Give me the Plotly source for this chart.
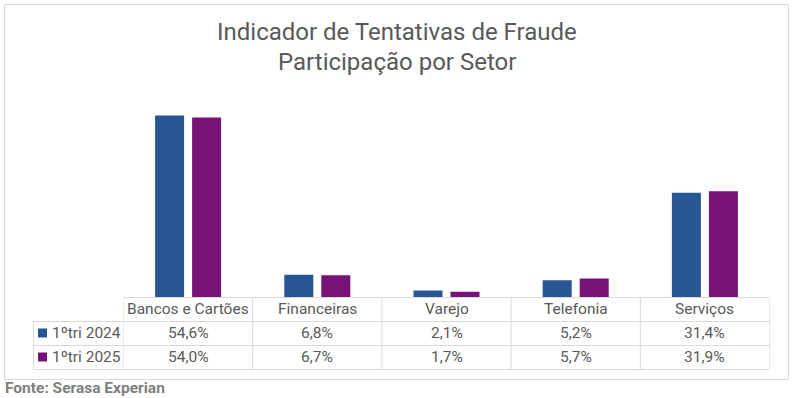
import plotly.graph_objects as go

categories = ["Bancos e Cartões", "Financeiras", "Varejo", "Telefonia", "Serviços"]
series_names = ["1ºtri 2024", "1ºtri 2025"]
values_2024 = [54.6, 6.8, 2.1, 5.2, 31.4]
values_2025 = [54.0, 6.7, 1.7, 5.7, 31.9]
colors = ["#285593", "#771278"]

W, H = 793, 398
def py(y):
    return (H - y) / H
def px(x):
    return x / W

fig = go.Figure()
for name, vals, col in zip(series_names, [values_2024, values_2025], colors):
    fig.add_trace(go.Bar(x=categories, y=vals, name=name, marker_color=col,
                         marker_line_width=0, hoverinfo="x+y+name"))

grid = "#d9d9d9"
txt = "#595959"
shapes = []
# outer border
shapes.append(dict(type="rect", xref="paper", yref="paper", x0=px(4.5), x1=px(788.5),
                   y0=py(379.5), y1=py(4.5), line=dict(color=grid, width=1)))
# horizontal table lines
shapes.append(dict(type="line", xref="x", yref="paper", x0=-0.5, x1=len(categories) - 0.5,
                   y0=py(297.5), y1=py(297.5), line=dict(color=grid, width=1)))
for yy in [321.5, 345.5, 369.5]:
    shapes.append(dict(type="line", xref="paper", yref="paper", x0=px(33.5), x1=px(769.5),
                       y0=py(yy), y1=py(yy), line=dict(color=grid, width=1)))
# vertical lines
shapes.append(dict(type="line", xref="paper", yref="paper", x0=px(33.5), x1=px(33.5),
                   y0=py(321.5), y1=py(369.5), line=dict(color=grid, width=1)))
for i in range(len(categories) + 1):
    shapes.append(dict(type="line", xref="x", yref="paper", x0=i - 0.5, x1=i - 0.5,
                       y0=py(297.5), y1=py(369.5), line=dict(color=grid, width=1)))
# legend squares
for k, yy in enumerate([333, 357]):
    shapes.append(dict(type="rect", xref="paper", yref="paper", x0=px(38), x1=px(47),
                       y0=py(yy + 4.5), y1=py(yy - 4.5), fillcolor=colors[k], line=dict(width=0)))

ann = []
font = dict(family="Roboto", size=15.5, color=txt)
for c in categories:
    ann.append(dict(x=c, xref="x", y=py(309), yref="paper", text=c, showarrow=False,
                    font=font, xanchor="center", yanchor="middle"))
for k, vals in enumerate([values_2024, values_2025]):
    yy = [333, 357][k]
    for c, v in zip(categories, vals):
        ann.append(dict(x=c, xref="x", y=py(yy), yref="paper",
                        text=f"{v:.1f}%".replace(".", ","), showarrow=False,
                        font=font, xanchor="center", yanchor="middle"))
    ann.append(dict(x=px(50), xref="paper", y=py(yy), yref="paper", text=series_names[k],
                    showarrow=False, font=font, xanchor="left", yanchor="middle"))
# title
ann.append(dict(x=0.5, xref="paper", y=py(32), yref="paper",
                text="Indicador de Tentativas de Fraude", showarrow=False,
                font=dict(family="Roboto", size=24, color=txt), yanchor="middle"))
ann.append(dict(x=0.5, xref="paper", y=py(62), yref="paper",
                text="Participação por Setor", showarrow=False,
                font=dict(family="Roboto", size=24, color=txt), yanchor="middle"))
# footer
ann.append(dict(x=px(3), xref="paper", y=py(388), yref="paper",
                text="<b>Fonte: Serasa Experian</b>", showarrow=False, xanchor="left",
                font=dict(family="Roboto", size=15.5, color="#7f7f7f"), yanchor="middle"))

fig.update_layout(
    width=W, height=H, margin=dict(l=0, r=0, t=0, b=0),
    plot_bgcolor="white", paper_bgcolor="white",
    barmode="group", bargap=0.427, bargroupgap=0.216,
    showlegend=False,
    xaxis=dict(domain=[px(123.5), px(769.5)], showticklabels=False, showgrid=False,
               zeroline=False, showline=False, range=[-0.5, len(categories) - 0.5]),
    yaxis=dict(domain=[py(297.5), py(97.5)], range=[0, 60], showticklabels=False,
               showgrid=False, zeroline=False, showline=False),
    shapes=shapes, annotations=ann,
)
fig.write_html("out.html", config={"displayModeBar": False},
               post_script="document.body.style.margin='0';document.body.style.padding='0';"
                           "document.body.style.overflow='hidden';")
